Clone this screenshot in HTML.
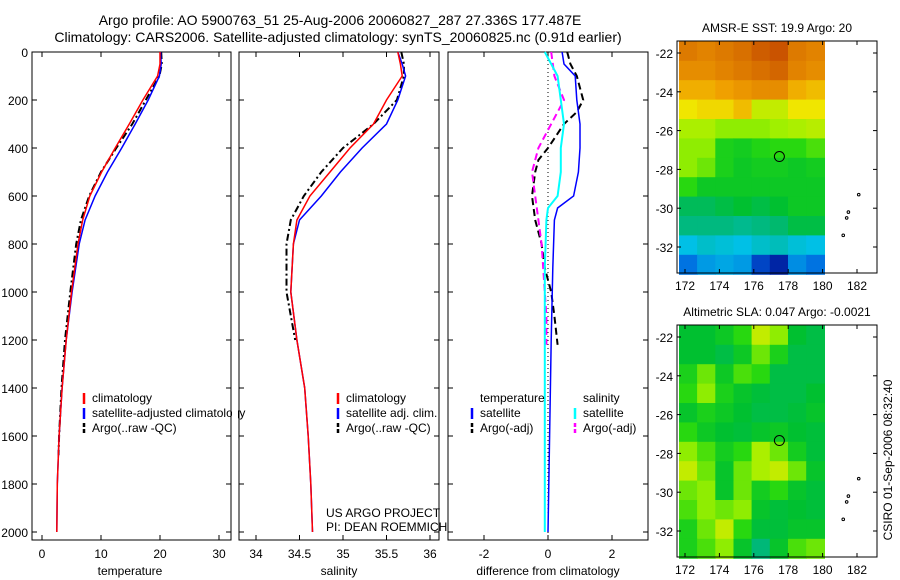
<!DOCTYPE html>
<html><head><meta charset="utf-8"><style>
body{margin:0;background:#fff}
svg{display:block;font-family:"Liberation Sans",sans-serif}
text{font-size:12px;fill:#000}
</style></head><body>
<svg id="c" width="900" height="580"></svg>
<script>
// ---------- data ----------
const depths = [0,50,100,200,300,400,500,600,700,800,1000,1200,1400,1600,1800,2000];
const tempClim = [20,20,19.6,17.1,14.8,12.4,10.1,8.1,6.9,6.1,5.0,4.1,3.4,2.9,2.6,2.5];
const tempSat  = [20.1,20.2,19.9,18.0,15.8,13.5,11.1,9.0,7.3,6.3,5.1,4.1,3.4,2.9,2.6,2.5];
const argoDepths = [0,50,100,200,300,400,500,600,700,800,1000,1200,1400,1600,1680];
const tempArgo = [20.2,20.3,19.9,17.6,15.3,12.6,10.0,8.0,6.6,5.8,4.8,3.9,3.3,2.9,2.8];
const salClim = [35.63,35.66,35.68,35.5,35.35,35.08,34.85,34.62,34.47,34.43,34.4,34.47,34.56,34.6,34.63,34.65];
const salSat  = [35.63,35.68,35.72,35.63,35.5,35.22,34.97,34.75,34.5,34.43,34.4,34.47,34.56,34.6,34.63,34.65];
const argoSalDepths = [0,50,100,200,300,400,500,600,700,800,1000,1200];
const salArgo = [35.67,35.7,35.7,35.62,35.35,35.0,34.75,34.55,34.4,34.35,34.35,34.45];
const diffDepths = [0,50,100,200,300,400,500,600,650,700,900,1200,1600,2000];
const dTempSat = [0.44,0.5,0.85,0.9,1.0,1.0,0.95,0.8,0.3,0.2,0.15,0.1,0.05,0.0];
const dSalSat  = [-0.1,0.1,0.3,0.4,0.5,0.4,0.4,0.3,0.0,-0.05,-0.1,-0.1,-0.1,-0.1];
const argoDiffDepths = [0,50,100,200,250,300,400,450,500,600,700,800,900,1000,1100,1220];
const dTempArgo = [0.6,0.7,0.9,1.1,0.9,0.5,0.0,-0.3,-0.4,-0.5,-0.4,-0.2,-0.1,0.1,0.2,0.3];
const dSalArgo  = [0.1,0.15,0.2,0.5,0.3,0.1,-0.3,-0.4,-0.5,-0.4,-0.3,-0.2,-0.15,-0.1,-0.05,-0.05];
const sstGrid = [
[.86,.85,.86,.87,.89,.90,.86,.85],[.84,.84,.85,.86,.87,.88,.85,.84],
[.80,.80,.82,.83,.84,.84,.80,.78],[.72,.74,.74,.78,.68,.68,.72,.72],
[.66,.66,.64,.64,.64,.65,.66,.67],[.64,.64,.56,.55,.57,.58,.58,.60],
[.64,.62,.56,.54,.55,.55,.54,.55],[.58,.54,.54,.54,.54,.54,.54,.54],
[.48,.48,.50,.52,.50,.52,.54,.54],[.44,.44,.44,.42,.44,.46,.50,.50],
[.30,.34,.32,.30,.34,.36,.32,.30],[.18,.24,.26,.24,.10,.04,.22,.18]];
const slaGrid = [
[.52,.52,.54,.58,.68,.64,.52,.50],[.52,.52,.50,.54,.62,.56,.50,.50],
[.56,.62,.54,.60,.58,.50,.50,.50],[.58,.64,.56,.53,.51,.50,.50,.52],
[.53,.56,.54,.52,.50,.50,.51,.53],[.58,.54,.52,.51,.53,.54,.52,.51],
[.64,.60,.55,.58,.66,.62,.55,.51],[.68,.62,.53,.62,.66,.68,.62,.53],
[.62,.64,.53,.62,.55,.58,.53,.51],[.60,.64,.62,.64,.53,.51,.52,.51],
[.56,.62,.68,.58,.51,.51,.53,.53],[.56,.60,.64,.53,.45,.53,.60,.62]];
const profileLon = 177.487, profileLat = -27.336;
const islands = [[181.2,-31.4],[181.4,-30.5],[181.5,-30.2],[182.1,-29.3]];

// ---------- helpers ----------
const svg=document.getElementById('c');const NS='http://www.w3.org/2000/svg';
function mk(t,a,p){const e=document.createElementNS(NS,t);for(const k in a)e.setAttribute(k,a[k]);(p||svg).appendChild(e);return e;}
function txt(x,y,s,anchor,p){const e=mk('text',{x:x,y:y,'text-anchor':anchor||'start'},p);e.textContent=s;return e;}
const yD=d=>52+d*0.24;
function line(xf,vals,ds,color,w,dash,name){
  const pts=vals.map((v,i)=>xf(v).toFixed(1)+','+yD(ds[i]).toFixed(1)).join(' ');
  const e=mk('polyline',{points:pts,fill:'none',stroke:color,'stroke-width':w});
  if(dash)e.setAttribute('stroke-dasharray',dash);
  
  
}
function frame(x0,x1,name){
  const r=mk('rect',{x:x0,y:52,width:x1-x0,height:488,fill:'none',stroke:'#000'});
  
  
}
function xticks(vals,xf){vals.forEach(v=>{const x=xf(v);mk('line',{x1:x,x2:x,y1:540,y2:535,stroke:'#000'});mk('line',{x1:x,x2:x,y1:52,y2:57,stroke:'#000'});txt(x,558,String(v),'middle');});}
function legend(x,y,items,g){items.forEach((it,i)=>{const yy=y+i*15;mk('line',{x1:x,x2:x,y1:yy-9,y2:yy+2,stroke:it[1],'stroke-width':2.5,'stroke-dasharray':it[2]||''},g);txt(x+8,yy,it[0],'start',g);});}

// titles
const t1=txt(340,25,'Argo profile: AO 5900763_51 25-Aug-2006 20060827_287 27.336S 177.487E','middle');


t1.setAttribute('style','font-size:14px');
const t2=txt(338,42,'Climatology: CARS2006. Satellite-adjusted climatology: synTS_20060825.nc (0.91d earlier)','middle');


t2.setAttribute('style','font-size:14px');

// panel 1 temperature
const xT=v=>42+v*5.9;
frame(32,231,'temperature-panel');
[0,200,400,600,800,1000,1200,1400,1600,1800,2000].forEach(d=>{mk('line',{x1:32,x2:37,y1:yD(d),y2:yD(d),stroke:'#000'});mk('line',{x1:231,x2:226,y1:yD(d),y2:yD(d),stroke:'#000'});txt(28,yD(d)+5,String(d),'end');});
xticks([0,10,20,30],xT);
txt(130,575,'temperature','middle');
line(xT,tempArgo,argoDepths,'#000',2,'7,3,2,3','temp-argo-line');
line(xT,tempSat,depths,'#0000ff',1.5,'','temp-satellite-line');
line(xT,tempClim,depths,'#ff0000',1.5,'','temp-climatology-line');
const lg1=mk('g',{});
legend(84,402,[['climatology','#ff0000'],['satellite-adjusted climatology','#0000ff'],['Argo(..raw -QC)','#000','4,2']],lg1);
mk('rect',{x:232,y:380,width:6,height:60,fill:'#fff'});
mk('line',{x1:231,x2:231,y1:380,y2:440,stroke:'#000'});

// panel 2 salinity
const xS=v=>256+(v-34)*87;
frame(239,439,'salinity-panel');
[0,200,400,600,800,1000,1200,1400,1600,1800,2000].forEach(d=>{mk('line',{x1:239,x2:244,y1:yD(d),y2:yD(d),stroke:'#000'});mk('line',{x1:439,x2:434,y1:yD(d),y2:yD(d),stroke:'#000'});});
xticks([34,34.5,35,35.5,36],xS);
txt(339,575,'salinity','middle');
line(xS,salArgo,argoSalDepths,'#000',2,'7,3,2,3','sal-argo-line');
line(xS,salSat,depths,'#0000ff',1.5,'','sal-satellite-line');
line(xS,salClim,depths,'#ff0000',1.5,'','sal-climatology-line');
const lg2=mk('g',{});
legend(338,402,[['climatology','#ff0000'],['satellite adj. clim.','#0000ff'],['Argo(..raw -QC)','#000','4,2']],lg2);
txt(326,517,'US ARGO PROJECT');txt(326,531,'PI: DEAN ROEMMICH');

// panel 3 difference
const xD=v=>548+v*32;
frame(448,648,'difference-panel');
[0,200,400,600,800,1000,1200,1400,1600,1800,2000].forEach(d=>{mk('line',{x1:448,x2:453,y1:yD(d),y2:yD(d),stroke:'#000'});mk('line',{x1:648,x2:643,y1:yD(d),y2:yD(d),stroke:'#000'});});
xticks([-2,0,2],xD);
txt(548,575,'difference from climatology','middle');
mk('line',{x1:548,x2:548,y1:52,y2:540,stroke:'#000','stroke-dasharray':'1,3'});
line(xD,dTempArgo,argoDiffDepths,'#000',2,'7,4','diff-temp-argo-line');
line(xD,dSalArgo,argoDiffDepths,'#ff00ff',2,'7,4','diff-sal-argo-line');
line(xD,dTempSat,diffDepths,'#0000ff',1.5,'','diff-temp-satellite-line');
line(xD,dSalSat,diffDepths,'#00ffff',2,'','diff-sal-satellite-line');
const lg3=mk('g',{});
txt(480,402,'temperature','start',lg3);txt(583,402,'salinity','start',lg3);
legend(472,417,[['satellite','#0000ff'],['Argo(-adj)','#000','4,2']],lg3);
legend(575,417,[['satellite','#00ffff'],['Argo(-adj)','#ff00ff','4,2']],lg3);

// maps
const stops=[[0,[0,16,144]],[.15,[0,96,224]],[.3,[0,192,230]],[.45,[0,184,120]],[.52,[0,192,48]],[.58,[40,216,16]],[.65,[160,240,0]],[.72,[240,230,0]],[.82,[240,160,0]],[.92,[192,64,0]]];
function col(v){for(let i=1;i<stops.length;i++){if(v<=stops[i][0]){const a=stops[i-1],b=stops[i],t=(v-a[0])/(b[0]-a[0]);return 'rgb('+a[1].map((c,k)=>Math.round(c+(b[1][k]-c)*t)).join(',')+')';}}return 'rgb(192,64,0)';}
function map(top,title,grid,name){
  const g=mk('g',{});
  const lx=v=>685+(v-172)*17.2, ly=v=>top+12+(-22-v)*19.4;
  const bottom=top+232;
  const lon0=171.65,lon1=180.1,lat0=-21.4,lat1=-33.4;
  const cw=(lon1-lon0)/8,ch=(lat0-lat1)/12;
  grid.forEach((row,r)=>row.forEach((v,c)=>{
    const x=lx(lon0+c*cw),y=ly(lat0-r*ch);
    mk('rect',{x:x.toFixed(1),y:y.toFixed(1),width:(cw*17.2+0.6).toFixed(1),height:(ch*19.4+0.6).toFixed(1),fill:col(v)},g);
  }));
  mk('rect',{x:677,y:top,width:200,height:232,fill:'none',stroke:'#000'},g);
  [172,174,176,178,180,182].forEach(v=>{const x=lx(v);mk('line',{x1:x,x2:x,y1:bottom,y2:bottom-4,stroke:'#000'},g);mk('line',{x1:x,x2:x,y1:top,y2:top+4,stroke:'#000'},g);txt(x,bottom+17,String(v),'middle',g);});
  [-22,-24,-26,-28,-30,-32].forEach(v=>{const y=ly(v);mk('line',{x1:677,x2:681,y1:y,y2:y,stroke:'#000'},g);mk('line',{x1:877,x2:873,y1:y,y2:y,stroke:'#000'},g);txt(673,y+5,String(v),'end',g);});
  mk('circle',{cx:lx(profileLon),cy:ly(profileLat),r:5,fill:'none',stroke:'#000'},g);
  islands.forEach(p=>mk('circle',{cx:lx(p[0]),cy:ly(p[1]),r:1.3,fill:'none',stroke:'#000'},g));
  txt(777,top-9,title,'middle',g);
}
map(41,'AMSR-E SST: 19.9 Argo: 20',sstGrid,'sst-map');
map(325,'Altimetric SLA: 0.047 Argo: -0.0021',slaGrid,'sla-map');
const cs=txt(0,0,'CSIRO 01-Sep-2006 08:32:40','middle');
cs.setAttribute('transform','translate(892,460) rotate(-90)');


</script>
</body></html>
